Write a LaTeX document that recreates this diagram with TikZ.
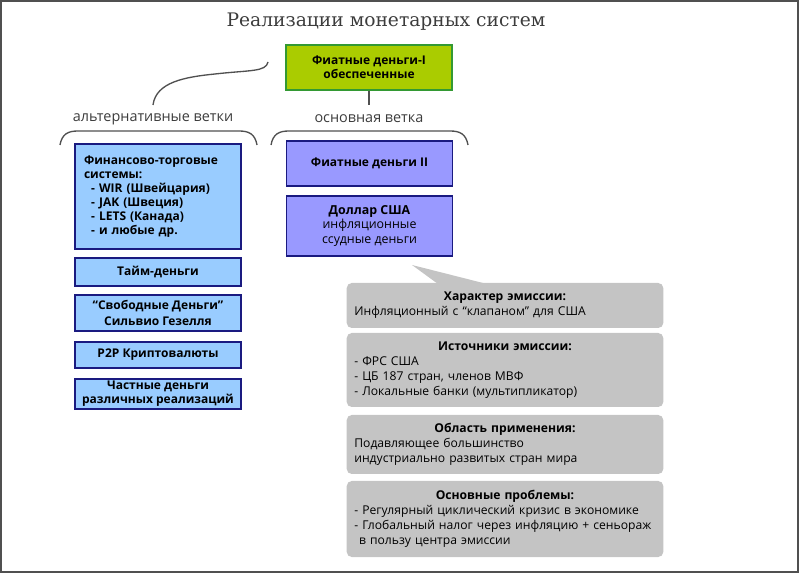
\documentclass[tikz,border=0pt]{standalone}
\usepackage{fontspec}
\setmainfont{Open Sans}
\newfontfamily\titlefont{DejaVu Serif}
\definecolor{navy}{RGB}{26,26,128}
\definecolor{lblue}{RGB}{153,204,255}
\definecolor{lpurple}{RGB}{153,153,255}
\definecolor{lgreen}{RGB}{170,204,0}
\definecolor{dgreen}{RGB}{51,153,51}
\definecolor{lgray}{RGB}{196,196,196}
\definecolor{frame}{RGB}{80,80,80}
\definecolor{txtgray}{RGB}{60,60,60}
\begin{document}
\begin{tikzpicture}[x=0.75pt,y=-0.75pt,
  bluebox/.style={draw=navy, fill=lblue, line width=1pt, minimum width=124.5pt,
    inner sep=0pt, align=center, font=\bfseries\fontsize{9}{10.5}\selectfont},
  purplebox/.style={bluebox, fill=lpurple},
  greenbox/.style={draw=dgreen, fill=lgreen, line width=1pt, minimum width=124.5pt,
    inner sep=0pt, align=center, font=\bfseries\fontsize{9}{10.5}\selectfont},
  graybox/.style={fill=lgray, rounded corners=3.75pt, minimum width=237pt,
    text width=226pt, inner xsep=5.7pt, inner ysep=0pt,
    font=\fontsize{9.1}{11.2}\selectfont},
  branchlabel/.style={text=txtgray, font=\fontsize{10.8}{13}\selectfont, inner sep=0pt},
  bracket/.style={draw=frame, line width=1pt},
]
\useasboundingbox (0,0) rectangle (800,573);
\draw[frame, line width=1.5pt] (1,1) rectangle (797.5,571.5);

\node[text=txtgray, font=\titlefont\fontsize{14}{17}\selectfont, inner sep=0pt] (title) at (386,22) {Реализации монетарных систем};

\node[greenbox, minimum height=33.75pt] (fiat1) at (369,67.5) {Фиатные деньги-I\\обеспеченные};
\coordinate (stem) at (369,105);
\draw[frame, line width=1pt] (fiat1.south) -- (stem);

\node[branchlabel] (mainlbl) at (369,119) {основная ветка};
\node[branchlabel] (altlbl) at (153,119) {альтернативные ветки};

\coordinate (cs) at (153,105);
\coordinate (cm) at (215,74);
\coordinate (ce) at (268,62);
\draw[frame, line width=1pt] (cs) .. controls (156,82) and (185,77) .. (cm) .. controls (250,70) and (266,72) .. (ce);

\draw[bracket] (60,145) .. controls (62,134) and (68,131) .. (78,131) -- (239,131) .. controls (249,131) and (255,134) .. (257,145);
\draw[bracket] (271,145) .. controls (273,134) and (279,131) .. (289,131) -- (450,131) .. controls (460,131) and (466,134) .. (468,145);

\node[bluebox, minimum height=78.75pt, text width=111pt, align=left, inner xsep=6.75pt] (fin) at (158,196.5)
  {Финансово-торговые\\системы:\\\hspace*{0.6em}- WIR (Швейцария)\\\hspace*{0.6em}- JAK (Швеция)\\\hspace*{0.6em}- LETS (Канада)\\\hspace*{0.6em}- и любые др.};
\node[bluebox, minimum height=21pt] (time) at (158,272) {Тайм-деньги};
\node[bluebox, minimum height=27pt, font=\bfseries\fontsize{9}{11.5}\selectfont] (free) at (158,313) {“Свободные Деньги”\\Сильвио Гезелля};
\node[bluebox, minimum height=19.5pt] (p2p) at (158,355) {P2P Криптовалюты};
\node[bluebox, minimum height=22.5pt] (priv) at (158,394) {Частные деньги\\различных реализаций};

\node[purplebox, minimum height=33.75pt] (fiat2) at (369.5,163.5) {Фиатные деньги II};
\node[purplebox, minimum height=45pt, font=\fontsize{9.3}{11}\selectfont] (usd) at (369.5,226) {\textbf{Доллар США}\\инфляционные\\ссудные деньги};

\fill[lgray] (412,265) -- (487,284) -- (438,284) -- cycle;
\node[graybox, minimum height=33.75pt] (g1) at (505,305.5)
  {\centering\textbf{Характер эмиссии:}\par\raggedright Инфляционный с “клапаном” для США};
\node[graybox, minimum height=55.5pt] (g2) at (505,370)
  {\centering\textbf{Источники эмиссии:}\par\raggedright - ФРС США\\- ЦБ 187 стран, членов МВФ\\- Локальные банки (мультипликатор)};
\node[graybox, minimum height=44.25pt] (g3) at (505,444.5)
  {\centering\textbf{Область применения:}\par\raggedright Подавляющее большинство\\индустриально развитых стран мира};
\node[graybox, minimum height=57pt] (g4) at (505,519)
  {\centering\textbf{Основные проблемы:}\par\raggedright - Регулярный циклический кризис в экономике\\- Глобальный налог через инфляцию + сеньораж\\\hspace*{0.4em}в пользу центра эмиссии};
\end{tikzpicture}
\end{document}
